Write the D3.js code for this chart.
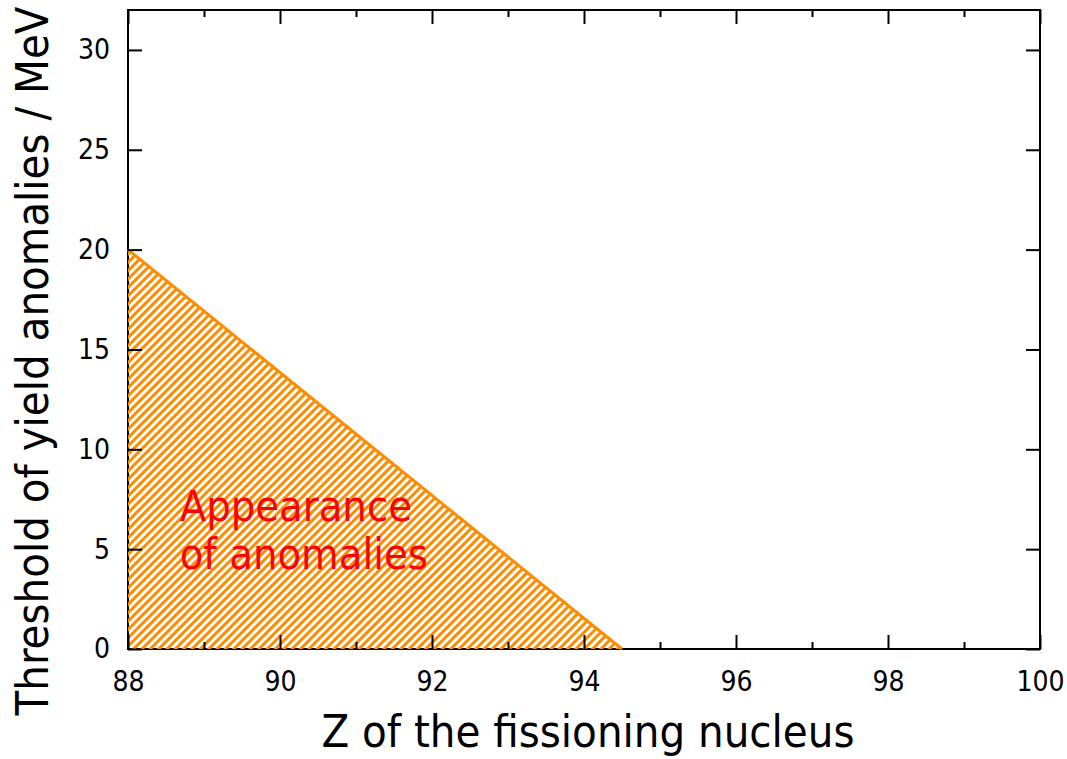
<!DOCTYPE html>
<html>
<head>
<meta charset="utf-8">
<script src="https://cdn.jsdelivr.net/npm/d3@7"></script>
<style>
  body { margin: 0; background: #fff; }
  text { font-family: "DejaVu Sans Condensed", "DejaVu Sans", sans-serif; font-stretch: condensed; }
</style>
</head>
<body>
<div id="container"></div>
<script>
const W = 1067, H = 759;
const margin = { left: 128, right: 27, top: 10, bottom: 110 };
const width = W - margin.left - margin.right;
const height = H - margin.top - margin.bottom;

// data
const xDomain = [88, 100];
const yDomain = [0, 32];
const xMajor = [88, 90, 92, 94, 96, 98, 100];
const xMinor = [89, 91, 93, 95, 97, 99];
const yMajor = [0, 5, 10, 15, 20, 25, 30];
const regionZ = [88, 94.5, 88];
const regionE = [20, 0, 0];
const regionLabel = ["Appearance", "of anomalies"];

const svg = d3.select('#container')
    .append('svg')
    .attr('width', W)
    .attr('height', H);

const g = svg.append('g')
    .attr('transform', `translate(${margin.left},${margin.top})`);

const x = d3.scaleLinear().domain(xDomain).range([0, width]);
const y = d3.scaleLinear().domain(yDomain).range([height, 0]);

// hatch pattern
const defs = svg.append('defs');
const pat = defs.append('pattern')
    .attr('id', 'hatch')
    .attr('patternUnits', 'userSpaceOnUse')
    .attr('width', 5.9)
    .attr('height', 10)
    .attr('patternTransform', 'rotate(45)');
pat.append('line')
    .attr('x1', 1.5).attr('y1', 0)
    .attr('x2', 1.5).attr('y2', 10)
    .attr('stroke', '#ff8c00')
    .attr('stroke-width', 3);

// frame
g.append('rect')
    .attr('width', width)
    .attr('height', height)
    .attr('fill', 'none')
    .attr('stroke', '#000')
    .attr('stroke-width', 2);

const pts = regionZ.map((z, i) => [x(z), y(regionE[i])]);
g.append('path')
    .attr('d', d3.line()(pts) + 'Z')
    .attr('fill', 'url(#hatch)');
g.append('path')
    .attr('d', d3.line()(pts.slice(0, 2)))
    .attr('fill', 'none')
    .attr('stroke', '#ff8c00')
    .attr('stroke-width', 3);

const tickStyle = sel => {
    sel.select('.domain').remove();
    sel.selectAll('line').attr('stroke', '#000').attr('stroke-width', 2);
    sel.selectAll('text').attr('font-size', 28).attr('fill', '#000');
};

g.append('g')
    .attr('transform', `translate(0,${height})`)
    .call(d3.axisBottom(x).tickValues(xMajor).tickSize(-14).tickPadding(22).tickFormat(d3.format('d')))
    .call(tickStyle);
g.append('g')
    .attr('transform', `translate(0,${height})`)
    .call(d3.axisBottom(x).tickValues(xMinor).tickSize(-7).tickFormat(''))
    .call(tickStyle);
g.append('g')
    .call(d3.axisTop(x).tickValues(xMajor).tickSize(-14).tickFormat(''))
    .call(tickStyle);
g.append('g')
    .call(d3.axisTop(x).tickValues(xMinor).tickSize(-7).tickFormat(''))
    .call(tickStyle);
g.append('g')
    .call(d3.axisLeft(y).tickValues(yMajor).tickSize(-14).tickPadding(18))
    .call(tickStyle);
g.append('g')
    .attr('transform', `translate(${width},0)`)
    .call(d3.axisRight(y).tickValues(yMajor).tickSize(-14).tickFormat(''))
    .call(tickStyle);

// region label
g.append('text')
    .attr('font-size', 43)
    .attr('fill', '#ff0000')
    .selectAll('tspan')
    .data(regionLabel)
    .enter()
    .append('tspan')
    .attr('x', x(88.68))
    .attr('y', (d, i) => 511 + i * 48)
    .text(d => d);

// axis titles
svg.append('text')
    .attr('x', 588)
    .attr('y', 747)
    .attr('text-anchor', 'middle')
    .attr('font-size', 45)
    .text('Z of the fissioning nucleus');

svg.append('text')
    .attr('transform', 'translate(48,361) rotate(-90)')
    .attr('text-anchor', 'middle')
    .attr('font-size', 45)
    .text('Threshold of yield anomalies / MeV');
</script>
</body>
</html>
